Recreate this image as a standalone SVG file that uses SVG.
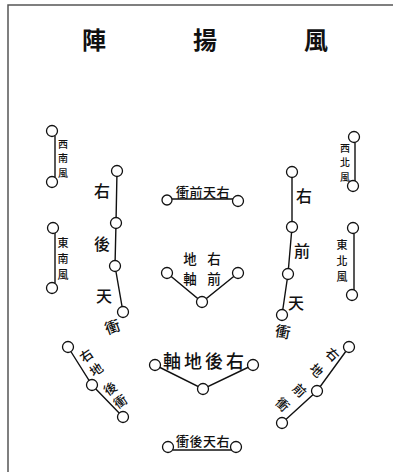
<svg xmlns="http://www.w3.org/2000/svg" width="393" height="472" viewBox="0 0 393 472">
<style>
.t{font-family:"Noto Sans CJK TC","Noto Sans CJK SC",serif;fill:#111;text-anchor:middle;dominant-baseline:central;font-weight:500}
.s10{font-size:10px}.s11{font-size:11px}.s13{font-size:13px}.s14{font-size:13.5px}.s15{font-size:15px}.s16{font-size:16px}.s18{font-size:18px}
.ttl{font-size:24px;font-weight:bold}
.ln{stroke:#111;stroke-width:1.4;fill:none}
.c{stroke:#111;stroke-width:1.3;fill:#fff}
.fr{stroke:#555;stroke-width:1.5;fill:none}
</style>
<rect width="393" height="472" fill="#fff"/>
<path class="fr" d="M393 5 H8 V472"/>
<g id="title">
<text class="t ttl" x="94" y="38">陣</text>
<text class="t ttl" x="205" y="38">揚</text>
<text class="t ttl" x="316" y="38">風</text>
</g>
<g id="connectors">
<line class="ln" x1="55" y1="136" x2="55" y2="177"/>
<line class="ln" x1="55" y1="233" x2="55" y2="283"/>
<line class="ln" x1="355" y1="142" x2="355" y2="181"/>
<line class="ln" x1="354" y1="233" x2="354" y2="290"/>
<polyline class="ln" points="117,171 116,223 115,266 123,312"/>
<polyline class="ln" points="292,172 292,227 288,274 282,315"/>
<line class="ln" x1="172" y1="199" x2="233" y2="199"/>
<polyline class="ln" points="167,273 202,302 238,273"/>
<polyline class="ln" points="155,365 203,389 253,365"/>
<line class="ln" x1="173" y1="450" x2="232" y2="450"/>
<polyline class="ln" points="68,347 92,385 123,417"/>
<polyline class="ln" points="349,347 317,391 282,423"/>
</g>
<g id="sw-wind">
<circle class="c" cx="52" cy="131" r="5.5"/><circle class="c" cx="52" cy="182" r="5.5"/>
<text class="t s10" x="63" y="143">西</text><text class="t s10" x="63" y="157.5">南</text><text class="t s10" x="63" y="172">風</text>
</g>
<g id="se-wind">
<circle class="c" cx="53" cy="228" r="5.5"/><circle class="c" cx="52" cy="288" r="5.5"/>
<text class="t s11" x="63" y="242">東</text><text class="t s11" x="63" y="258">南</text><text class="t s11" x="63" y="274">風</text>
</g>
<g id="nw-wind">
<circle class="c" cx="354" cy="137" r="5.5"/><circle class="c" cx="353" cy="186" r="5.5"/>
<text class="t s10" x="345" y="147">西</text><text class="t s10" x="345" y="161.5">北</text><text class="t s10" x="345" y="176">風</text>
</g>
<g id="ne-wind">
<circle class="c" cx="353" cy="228" r="5.5"/><circle class="c" cx="352" cy="295" r="5.5"/>
<text class="t s11" x="342" y="244">東</text><text class="t s11" x="342" y="260">北</text><text class="t s11" x="342" y="276">風</text>
</g>
<g id="left-chain">
<circle class="c" cx="117" cy="171" r="5.5"/><circle class="c" cx="116" cy="223" r="5.5"/><circle class="c" cx="115" cy="266" r="5.5"/><circle class="c" cx="123" cy="312" r="5.5"/>
<text class="t s16" x="102" y="190">右</text><text class="t s16" x="102" y="243">後</text><text class="t s16" x="104" y="295">天</text>
<text class="t s15" x="0" y="0" transform="translate(112 326) rotate(-20)">衝</text>
</g>
<g id="right-chain">
<circle class="c" cx="292" cy="172" r="5.5"/><circle class="c" cx="292" cy="227" r="5.5"/><circle class="c" cx="288" cy="274" r="5.5"/><circle class="c" cx="282" cy="315" r="5.5"/>
<text class="t s16" x="304" y="195">右</text><text class="t s16" x="302" y="250">前</text><text class="t s16" x="296" y="302">天</text>
<text class="t s15" x="0" y="0" transform="translate(283 331) rotate(10)">衝</text>
</g>
<g id="top-bar">
<circle class="c" cx="167" cy="200" r="5"/><circle class="c" cx="238" cy="201" r="5.5"/>
<text class="t s13" x="203" y="191" letter-spacing="0.5">衝前天右</text>
</g>
<g id="mid-v">
<circle class="c" cx="167" cy="273" r="5.5"/><circle class="c" cx="202" cy="302" r="5.5"/><circle class="c" cx="238" cy="273" r="5.5"/>
<text class="t s14" x="190" y="258">地</text><text class="t s14" x="214" y="258">右</text>
<text class="t s14" x="190" y="278">軸</text><text class="t s14" x="214" y="278">前</text>
</g>
<g id="low-v">
<circle class="c" cx="155" cy="365" r="5.5"/><circle class="c" cx="203" cy="389" r="5.5"/><circle class="c" cx="253" cy="365" r="5.5"/>
<text class="t s18" x="205" y="360" letter-spacing="3">軸地後右</text>
</g>
<g id="bottom-bar">
<circle class="c" cx="168" cy="447" r="5.5"/><circle class="c" cx="236" cy="447" r="5.5"/>
<text class="t s13" x="203" y="440" letter-spacing="0.5">衝後天右</text>
</g>
<g id="lower-left-chain">
<circle class="c" cx="68" cy="347" r="5.5"/><circle class="c" cx="92" cy="385" r="5.5"/><circle class="c" cx="123" cy="417" r="5.5"/>
<text class="t s13" transform="translate(86 355) rotate(-35)">右</text>
<text class="t s13" transform="translate(96 369) rotate(-35)">地</text>
<text class="t s13" transform="translate(110 388) rotate(-35)">後</text>
<text class="t s13" transform="translate(120 401) rotate(-35)">衝</text>
</g>
<g id="lower-right-chain">
<circle class="c" cx="349" cy="347" r="5.5"/><circle class="c" cx="317" cy="391" r="5.5"/><circle class="c" cx="282" cy="423" r="5.5"/>
<text class="t s13" transform="translate(333 354) rotate(45)">右</text>
<text class="t s13" transform="translate(317 370) rotate(45)">地</text>
<text class="t s13" transform="translate(300 390) rotate(45)">前</text>
<text class="t s13" transform="translate(283 404) rotate(45)">衝</text>
</g>
</svg>
